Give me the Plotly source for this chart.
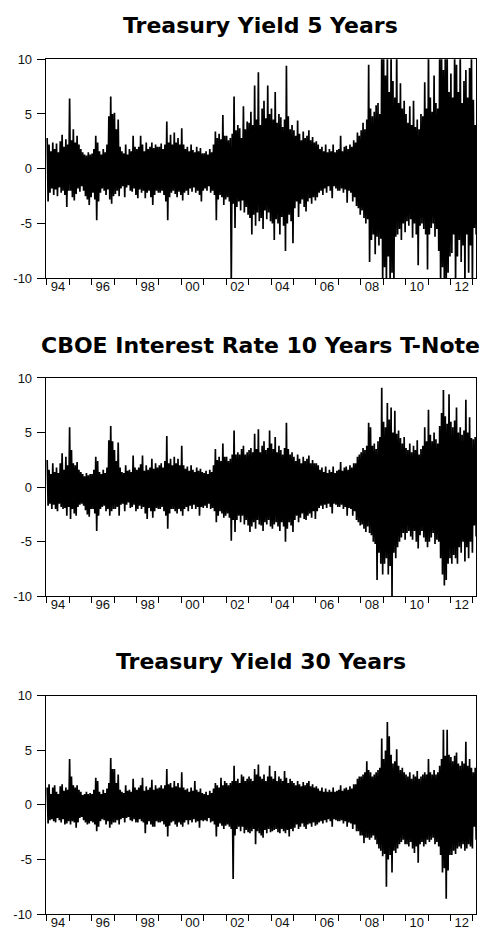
import numpy as np
import plotly.graph_objects as go

# Monthly high / low extremes of daily yield changes (%), Jan 1994 .. Feb 2013
START_YEAR = 1994

T5_HI = [
    2.8, 2.2, 1.6, 2.4, 1.8, 2.3, 1.5, 2.5, 3.1, 2.0, 2.7, 2.2,    # 1994
    6.4, 2.6, 3.6, 2.4, 3.0, 2.2, 1.8, 1.5, 1.3, 1.2, 1.5, 1.3,    # 1995
    1.4, 1.8, 3.0, 2.4, 1.6, 1.3, 1.8, 1.5, 2.2, 4.8, 6.6, 5.0,    # 1996
    5.1, 3.6, 4.5, 2.0, 1.6, 1.4, 2.2, 1.3, 1.8, 1.6, 3.0, 2.0,    # 1997
    1.8, 2.0, 3.0, 2.2, 1.6, 2.4, 1.8, 2.0, 2.4, 1.9, 2.2, 2.0,    # 1998
    2.0, 2.3, 1.8, 2.2, 4.3, 2.4, 3.1, 2.2, 3.3, 2.4, 2.8, 2.2,    # 1999
    3.7, 2.2, 1.8, 2.0, 1.6, 2.2, 1.7, 1.5, 2.0, 1.6, 1.9, 1.4,    # 2000
    1.4, 1.6, 1.3, 1.8, 1.5, 2.2, 3.4, 2.8, 3.2, 2.7, 4.9, 3.0,    # 2001
    3.0, 2.6, 2.8, 3.2, 6.6, 3.5, 4.0, 3.7, 2.8, 5.7, 3.6, 4.3,    # 2002
    4.2, 5.2, 4.0, 7.6, 4.5, 8.8, 4.0, 5.5, 6.2, 4.6, 7.6, 5.0,    # 2003
    5.5, 4.5, 7.0, 4.2, 5.0, 4.7, 3.8, 4.5, 9.4, 4.8, 3.6, 4.0,    # 2004
    3.5, 3.0, 4.4, 3.2, 2.6, 3.4, 2.8, 3.0, 3.5, 2.6, 2.9, 2.4,    # 2005
    2.5, 2.2, 1.8, 2.0, 1.6, 2.2, 1.5, 1.8, 1.6, 2.2, 1.5, 1.7,    # 2006
    1.8, 3.0, 1.6, 2.0, 2.1, 1.8, 2.2, 2.0, 2.6, 2.4, 3.3, 3.0,    # 2007
    3.5, 4.2, 3.6, 4.5, 9.5, 5.5, 4.8, 5.2, 5.8, 6.0, 5.0, 11.0,   # 2008
    11.0, 8.5, 11.0, 7.0, 11.0, 8.0, 6.5, 11.0, 6.0, 7.8, 5.5, 6.2,  # 2009
    5.0, 4.2, 5.7, 4.0, 6.2, 3.8, 4.5, 3.6, 5.0, 4.8, 7.9, 5.5,    # 2010
    11.0, 6.5, 5.2, 8.5, 6.0, 5.5, 11.0, 11.0, 9.0, 11.0, 11.0, 7.0,  # 2011
    8.7, 6.5, 11.0, 9.5, 7.0, 11.0, 6.0, 8.0, 9.0, 6.5, 9.2, 11.0,  # 2012
    6.3, 4.0,                                                       # 2013
]
T5_LO = [
    -3.0, -2.2, -1.8, -2.4, -1.9, -2.5, -1.7, -2.2, -2.0, -2.4, -3.5, -2.0,
    -2.0, -2.6, -2.9, -2.3, -1.8, -2.1, -1.6, -2.0, -2.5, -2.8, -3.3, -2.6,
    -2.2, -2.8, -4.7, -3.0, -2.2, -1.8, -2.0, -2.4, -1.9, -2.8, -3.2, -2.5,
    -2.3, -2.0, -2.5, -1.8, -1.6, -2.6, -1.7, -1.5, -2.0, -2.1, -1.8, -2.4,
    -2.7, -1.9, -2.2, -2.0, -2.7, -2.2, -2.0, -2.6, -3.3, -2.4, -2.0, -2.2,
    -2.2, -2.0, -2.4, -3.0, -4.7, -2.6, -2.2, -2.0, -2.3, -2.6, -2.1, -2.4,
    -2.9, -2.2, -2.0, -2.4, -1.8, -2.1, -1.7, -2.2, -2.0, -2.4, -3.0, -2.0,
    -1.8, -2.0, -1.6, -2.2, -2.0, -2.4, -4.7, -2.8, -2.4, -2.6, -3.3, -2.8,
    -2.6, -3.0, -10.5, -3.2, -5.4, -3.5, -3.0, -3.8, -2.9, -4.0, -3.5, -4.2,
    -4.5, -6.0, -4.2, -5.2, -4.0, -4.8, -4.5, -5.5, -3.8, -4.6, -4.0, -4.8,
    -5.0, -6.5, -4.6, -5.0, -6.0, -4.4, -5.2, -7.5, -5.0, -4.2, -4.8, -6.8,
    -3.6, -3.0, -4.4, -3.2, -2.8, -3.5, -3.9, -3.0, -2.7, -3.2, -2.6, -2.9,
    -2.6, -2.2, -2.0, -2.4, -1.8, -2.2, -1.6, -2.0, -2.7, -1.6, -1.8, -2.0,
    -2.0, -1.8, -2.2, -1.9, -3.1, -2.0, -2.2, -3.0, -2.6, -3.4, -3.6, -4.2,
    -3.8, -4.5, -5.0, -4.6, -8.5, -6.5, -6.0, -7.8, -6.2, -7.0, -6.4, -11.0,
    -9.0, -11.0, -8.0, -11.0, -9.5, -11.0, -6.2, -6.0, -5.5, -6.5, -5.0, -5.8,
    -4.8, -5.2, -4.6, -6.3, -5.0, -6.0, -8.8, -5.2, -5.0, -5.5, -6.0, -9.2,
    -6.0, -5.4, -5.0, -6.2, -5.5, -7.5, -11.0, -9.0, -11.0, -11.0, -9.5, -8.0,
    -7.7, -6.0, -11.0, -8.0, -6.5, -8.5, -7.0, -11.0, -6.0, -9.5, -7.0, -11.0,
    -5.4, -6.0,
]

CBOE10_HI = [
    2.5, 1.6, 1.2, 2.2, 1.4, 1.8, 1.3, 2.2, 3.1, 1.6, 2.8, 2.0,
    5.5, 3.4, 2.2, 2.0, 2.3, 1.6, 1.4, 1.2, 1.0, 1.3, 1.1, 1.2,
    1.2, 1.6, 2.8, 2.4, 1.4, 1.2, 1.6, 1.3, 1.8, 4.3, 5.6, 4.2,
    3.4, 2.4, 4.1, 1.8, 1.4, 1.3, 2.0, 1.5, 1.6, 1.4, 2.9, 1.8,
    1.6, 1.8, 2.1, 2.9, 1.5, 2.0, 1.6, 1.8, 2.6, 1.7, 2.2, 1.8,
    2.0, 2.2, 1.8, 2.4, 4.7, 2.2, 2.6, 2.0, 2.8, 2.2, 2.6, 2.0,
    3.8, 2.0, 1.7, 1.9, 1.5, 2.0, 1.6, 1.4, 1.8, 1.5, 1.7, 1.4,
    1.3, 1.5, 1.2, 1.6, 1.4, 2.0, 3.5, 2.5, 2.8, 2.4, 4.0, 2.8,
    2.8, 2.4, 2.6, 3.0, 5.2, 3.0, 3.2, 3.0, 3.5, 3.8, 3.0, 3.2,
    3.4, 3.6, 3.2, 4.9, 3.5, 5.3, 3.2, 3.8, 4.2, 3.4, 3.6, 5.2,
    4.0, 3.5, 4.6, 3.2, 3.8, 3.4, 3.0, 3.6, 5.9, 3.5, 3.0, 3.2,
    2.8, 2.4, 3.0, 2.6, 2.2, 2.8, 2.4, 2.6, 2.9, 2.2, 2.5, 2.2,
    2.2, 2.0, 1.6, 1.8, 1.4, 1.9, 1.3, 1.6, 1.4, 1.9, 1.3, 1.5,
    1.6, 2.3, 1.5, 1.8, 1.9, 1.6, 2.0, 1.8, 2.2, 2.2, 2.8, 3.0,
    3.2, 3.6, 3.4, 3.8, 5.9, 5.5, 3.8, 4.0, 3.5, 4.2, 4.6, 9.1,
    6.0, 5.5, 7.7, 6.2, 7.3, 5.0, 7.0, 4.9, 5.2, 4.5, 4.0, 4.6,
    3.6, 3.4, 4.0, 3.2, 3.8, 3.4, 4.3, 3.0, 3.5, 3.8, 5.5, 4.2,
    7.1, 4.8, 4.2, 5.0, 4.4, 4.0, 5.6, 6.8, 8.9, 6.5, 5.8, 8.5,
    6.0, 5.5, 6.1, 7.3, 5.0, 5.5, 4.8, 5.2, 8.0, 5.0, 6.4, 4.5,
    4.4, 4.6,
]
CBOE10_LO = [
    -1.7, -1.5, -2.0, -1.6, -2.0, -2.2, -1.5, -1.8, -2.0, -1.9, -2.6, -1.8,
    -2.9, -2.0, -2.4, -2.6, -1.8, -1.6, -1.5, -1.7, -2.1, -2.5, -2.7, -2.0,
    -2.0, -2.4, -4.0, -2.6, -2.0, -1.8, -1.7, -2.2, -2.0, -2.6, -2.2, -2.0,
    -2.0, -1.8, -2.6, -1.6, -1.5, -2.2, -1.6, -1.4, -1.9, -1.8, -1.6, -2.2,
    -2.0, -1.7, -2.0, -1.8, -2.4, -2.9, -1.9, -2.2, -2.8, -2.2, -1.9, -2.0,
    -2.0, -1.8, -2.2, -2.6, -3.8, -2.4, -2.0, -2.0, -2.2, -2.4, -2.0, -2.2,
    -2.6, -2.0, -1.8, -2.2, -1.7, -2.0, -1.6, -2.0, -1.8, -2.6, -1.8, -1.9,
    -1.7, -1.9, -1.5, -2.0, -1.9, -2.2, -3.2, -2.6, -2.2, -2.4, -2.8, -2.6,
    -2.4, -2.8, -4.9, -3.0, -4.1, -3.0, -2.6, -3.2, -2.6, -3.4, -3.0, -3.5,
    -4.1, -3.6, -3.2, -3.8, -3.0, -3.4, -3.5, -4.0, -3.2, -3.4, -3.0, -3.6,
    -3.8, -3.4, -3.2, -3.6, -4.0, -3.2, -3.6, -5.0, -3.8, -3.2, -3.5, -4.1,
    -3.0, -2.6, -3.2, -2.8, -2.4, -2.9, -3.0, -2.6, -2.4, -2.8, -2.2, -2.9,
    -2.2, -1.9, -1.7, -2.0, -1.6, -1.9, -1.5, -1.8, -2.4, -1.5, -1.6, -1.8,
    -1.8, -1.6, -2.0, -1.8, -2.6, -1.9, -2.0, -2.6, -2.2, -3.0, -3.2, -3.5,
    -3.4, -3.8, -4.1, -3.6, -4.2, -4.4, -5.0, -5.2, -8.5, -6.0, -7.0, -8.0,
    -7.0, -6.5, -8.0, -7.2, -10.0, -6.0, -6.5, -5.5, -5.0, -4.6, -4.2, -4.8,
    -4.2, -4.0, -4.5, -4.8, -4.0, -5.0, -5.6, -4.4, -4.0, -4.6, -5.0, -5.5,
    -5.0, -4.6, -4.2, -5.2, -4.8, -5.0, -6.5, -8.0, -9.0, -8.5, -7.0, -6.5,
    -7.0, -6.2, -6.5, -7.0, -5.5, -6.0, -5.0, -6.8, -5.5, -6.5, -5.0, -6.0,
    -3.5, -4.5,
]

T30_HI = [
    1.6, 1.9, 1.0, 1.6, 1.8, 1.2, 1.0, 1.7, 1.9, 1.3, 1.6, 1.4,
    4.2, 2.6, 1.8, 1.6, 1.8, 1.4, 1.2, 0.9, 1.0, 1.2, 1.0, 1.1,
    1.0, 1.4, 2.5, 2.2, 1.2, 1.0, 1.4, 1.1, 1.5, 2.0, 4.3, 3.3,
    3.3, 2.0, 2.8, 1.4, 1.2, 1.1, 1.8, 1.3, 1.4, 1.2, 2.4, 1.6,
    1.4, 1.6, 1.8, 2.5, 1.3, 1.7, 1.4, 1.6, 2.3, 1.4, 1.8, 1.5,
    1.6, 1.8, 1.5, 1.8, 3.3, 1.9, 2.0, 1.6, 2.2, 1.7, 2.0, 1.6,
    3.0, 1.6, 1.4, 1.5, 1.2, 1.6, 1.3, 2.2, 1.4, 1.2, 1.5, 1.1,
    1.0, 1.2, 0.9, 1.3, 1.1, 1.5, 2.0, 1.8, 1.6, 2.5, 1.8, 2.2,
    2.0, 1.8, 2.0, 2.2, 3.6, 2.2, 2.4, 2.0, 2.8, 2.6, 2.2, 2.4,
    2.6, 2.4, 2.2, 3.3, 2.8, 3.7, 2.6, 2.4, 2.8, 2.2, 2.6, 3.6,
    2.6, 2.4, 3.1, 2.2, 2.6, 2.4, 2.2, 3.1, 2.5, 2.0, 2.4, 2.2,
    2.0, 1.8, 2.2, 1.9, 1.7, 2.1, 1.8, 2.0, 2.2, 1.7, 1.9, 1.6,
    1.7, 1.5, 1.3, 1.6, 1.2, 1.5, 1.2, 1.4, 1.2, 1.6, 1.2, 1.3,
    1.4, 1.8, 1.3, 1.5, 1.6, 1.4, 1.7, 1.5, 1.9, 1.9, 2.4, 2.6,
    2.6, 2.8, 3.0, 4.0, 3.2, 3.0, 2.6, 2.8, 3.0, 3.2, 3.4, 6.1,
    4.2, 5.0, 7.6, 6.3, 4.6, 3.8, 4.0, 5.1, 3.6, 3.2, 3.4, 3.0,
    2.8, 2.6, 3.0, 2.4, 2.8, 2.6, 3.1, 2.4, 2.6, 2.8, 3.0, 2.8,
    4.2, 3.0, 2.8, 3.2, 2.8, 3.0, 3.6, 4.2, 6.9, 4.5, 6.9, 4.6,
    4.4, 4.0, 4.5, 4.8, 3.8, 3.6, 4.0, 3.8, 5.8, 3.6, 4.2, 3.4,
    3.0, 3.4,
]
T30_LO = [
    -1.7, -1.4, -1.3, -1.5, -1.6, -1.2, -1.4, -1.6, -1.3, -1.8, -1.7, -1.5,
    -1.8, -1.5, -1.6, -2.1, -1.6, -1.2, -1.1, -1.4, -1.6, -1.8, -1.7, -1.5,
    -1.6, -1.8, -2.4, -2.0, -1.5, -1.3, -1.4, -1.8, -1.5, -2.1, -1.8, -1.6,
    -1.6, -1.4, -1.8, -1.3, -1.2, -1.6, -1.2, -1.1, -1.4, -1.5, -1.3, -1.6,
    -1.6, -1.3, -1.5, -1.6, -2.6, -1.8, -1.5, -1.8, -2.0, -2.0, -1.5, -1.6,
    -1.6, -1.5, -1.8, -2.0, -2.9, -1.9, -1.6, -1.5, -1.8, -2.0, -1.6, -1.8,
    -2.0, -1.6, -1.4, -1.8, -1.4, -1.6, -1.3, -1.6, -1.5, -2.1, -1.4, -1.5,
    -1.4, -1.5, -1.2, -1.6, -1.5, -1.8, -2.9, -2.0, -1.7, -1.9, -2.2, -1.9,
    -1.8, -2.0, -2.2, -6.8, -2.8, -2.2, -2.0, -2.4, -2.0, -2.6, -2.3, -2.5,
    -2.6, -2.4, -2.2, -3.6, -2.4, -2.6, -2.8, -3.0, -2.3, -2.6, -2.2, -2.5,
    -2.4, -2.3, -2.2, -2.5, -2.6, -2.2, -2.4, -2.6, -2.3, -2.9, -2.2, -2.4,
    -2.1, -1.8, -2.2, -2.0, -1.7, -2.0, -2.2, -1.8, -1.7, -2.0, -1.6, -1.9,
    -1.8, -1.6, -1.5, -1.7, -1.4, -1.6, -1.3, -1.5, -2.0, -1.3, -1.4, -1.5,
    -1.5, -1.4, -1.7, -1.5, -2.0, -1.6, -1.7, -2.2, -1.8, -2.4, -2.4, -2.8,
    -2.8, -3.5, -3.0, -3.0, -3.2, -3.0, -2.8, -3.2, -3.6, -4.0, -4.2, -4.7,
    -4.5, -7.5, -5.0, -4.6, -6.2, -4.2, -4.4, -4.0, -3.6, -3.4, -3.2, -3.6,
    -3.6, -3.8, -3.4, -4.0, -4.4, -3.8, -5.3, -3.6, -3.4, -3.8, -3.6, -3.2,
    -3.4, -3.2, -3.0, -3.6, -3.4, -3.8, -4.6, -6.2, -5.8, -8.6, -6.0, -4.6,
    -4.6, -4.2, -4.5, -4.0, -3.8, -4.0, -3.6, -4.2, -4.0, -3.6, -3.8, -4.0,
    -2.0, -3.2,
]

TITLES = [
    "Treasury Yield 5 Years",
    "CBOE Interest Rate 10 Years T-Note",
    "Treasury Yield 30 Years",
]
Y_TICKS = [-10, -5, 0, 5, 10]
X_LABEL_YEARS = list(range(1994, 2013, 2))
X_LABELS = ["94", "96", "98", "00", "02", "04", "06", "08", "10", "12"]

SERIES = [(T5_HI, T5_LO), (CBOE10_HI, CBOE10_LO), (T30_HI, T30_LO)]

W, H = 482, 942
# panel boxes in pixels: (top, bottom)
PANELS = [(53, 275.7), (377, 599), (700, 921.7)]
TITLE_Y = [19, 343.5, 665]
X_LEFT, X_RIGHT = 45.7, 476


def py(p):
    return 1 - p / H


def zigzag(hi, lo):
    """Interleave the monthly highs and lows on a decimal-year axis."""
    n = len(hi)
    idx = np.arange(n)
    xs = np.empty(2 * n)
    ys = np.empty(2 * n)
    xs[0::2] = START_YEAR + (idx + 0.25) / 12
    xs[1::2] = START_YEAR + (idx + 0.75) / 12
    ys[0::2] = hi
    ys[1::2] = lo
    return xs, ys


fig = go.Figure()
tick_font = dict(family="Liberation Sans, Arial, sans-serif", size=13, color="#111111")

for k, (hi, lo) in enumerate(SERIES):
    xs, ys = zigzag(hi, lo)
    sfx = "" if k == 0 else str(k + 1)
    fig.add_trace(go.Scatter(
        x=xs, y=ys, mode="lines",
        line=dict(color="black", width=1.7),
        xaxis="x" + sfx, yaxis="y" + sfx,
        hoverinfo="skip", showlegend=False,
    ))
    top, bot = PANELS[k]
    fig.layout["xaxis" + sfx] = dict(
        domain=[X_LEFT / W, X_RIGHT / W],
        anchor="y" + sfx,
        range=[1993.955, 2013.14],
        showgrid=False, zeroline=False,
        showline=True, linecolor="black", linewidth=1, mirror=True,
        tickmode="array",
        tickvals=[y + 0.5 for y in X_LABEL_YEARS],
        ticktext=X_LABELS,
        ticks="", tickfont=tick_font,
        ticklabelstandoff=-4,
        minor=dict(tickmode="array", tickvals=list(range(1994, 2014)),
                   ticks="outside", ticklen=6, tickwidth=1, tickcolor="black",
                   showgrid=False),
    )
    fig.layout["yaxis" + sfx] = dict(
        domain=[py(bot), py(top)],
        anchor="x" + sfx,
        range=[-10, 10],
        showgrid=False, zeroline=False,
        showline=True, linecolor="black", linewidth=1, mirror=True,
        tickmode="array", tickvals=Y_TICKS,
        ticktext=[str(v) for v in Y_TICKS],
        ticks="outside", ticklen=8, tickwidth=1, tickcolor="black",
        tickfont=tick_font, ticklabelstandoff=2,
    )
    fig.add_annotation(
        text="<b>%s</b>" % TITLES[k],
        x=(X_LEFT + X_RIGHT) / 2 / W, xref="paper", xanchor="center",
        y=py(TITLE_Y[k]), yref="paper", yanchor="middle",
        showarrow=False,
        font=dict(family="DejaVu Sans, sans-serif", size=22, color="black"),
    )

fig.update_layout(
    width=W, height=H,
    margin=dict(l=0, r=0, t=0, b=0),
    paper_bgcolor="white", plot_bgcolor="white",
)

fig.write_html("out.html")
